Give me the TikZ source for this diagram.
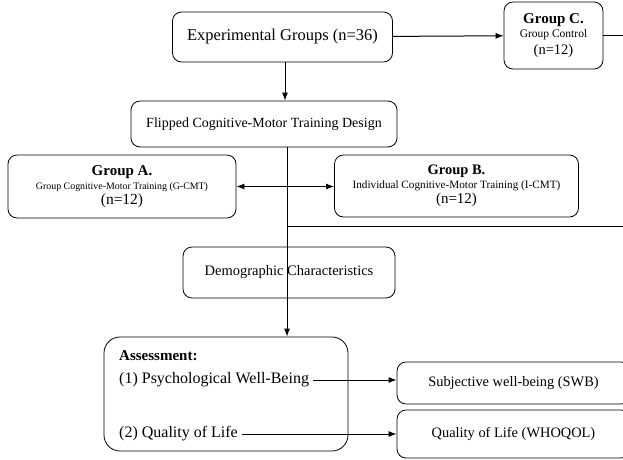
\documentclass[tikz,border=0pt]{standalone}
\usepackage{fontspec}
\setmainfont{Liberation Serif}
\usetikzlibrary{arrows.meta}

\tikzset{
  box/.style={shape=rectangle,rounded corners=9pt,draw=black,align=center,line width=0.8pt,inner sep=2pt},
  grp/.style={box,font=\fontsize{15}{15}\selectfont},
  link/.style={draw=black,line width=1pt,-{Latex[length=8pt,width=6pt]}},
  plain/.style={draw=black,line width=1pt},
  txt/.style={anchor=west,inner sep=0pt,font=\fontsize{16}{18}\selectfont}
}

\begin{document}
\begin{tikzpicture}[x=1pt,y=-1pt]
\useasboundingbox (0,0) rectangle (623,459);
\clip (0,0) rectangle (623,459);

\node[box,minimum width=220pt,minimum height=50pt,font=\fontsize{16.5}{18}\selectfont] (exp) at (282.5,37) {Experimental Groups (n=36)};
\node[grp,minimum width=99pt,minimum height=67pt] (grpC) at (553.5,35.5) {{\fontsize{15}{15}\selectfont\bfseries Group C.}\\[-1pt]{\fontsize{11.5}{13}\selectfont Group Control}\\[2pt]{\fontsize{14.5}{15}\selectfont (n=12)}};
\node[box,minimum width=266pt,minimum height=46pt,font=\fontsize{14}{16}\selectfont] (flip) at (264,124) {Flipped Cognitive-Motor Training Design};
\node[grp,minimum width=228pt,minimum height=63pt] (grpA) at (122,186.5) {{\fontsize{15}{15}\selectfont\bfseries Group A.}\\[-1pt]{\fontsize{9.9}{11}\selectfont Group Cognitive-Motor Training (G-CMT)}\\{\fontsize{15.5}{15}\selectfont (n=12)}};
\node[grp,minimum width=244pt,minimum height=62pt] (grpB) at (456.5,186) {{\fontsize{14.5}{15}\selectfont\bfseries Group B.}\\[-1pt]{\fontsize{11.2}{12}\selectfont Individual Cognitive-Motor Training (I-CMT)}\\{\fontsize{15}{15}\selectfont (n=12)}};
\node[box,minimum width=212pt,minimum height=51pt,font=\fontsize{14.5}{16}\selectfont] (demo) at (289,272.5) {Demographic Characteristics};
\node[box,minimum width=244pt,minimum height=114pt,rounded corners=16pt] (assess) at (226,394) {};
\node[box,minimum width=233pt,minimum height=42pt,font=\fontsize{14.4}{16}\selectfont] (swb) at (513.5,383) {Subjective well-being (SWB)};
\node[box,minimum width=233pt,minimum height=48pt,font=\fontsize{14.4}{16}\selectfont] (whoqol) at (513.5,434) {Quality of Life (WHOQOL)};

\node[txt,font=\fontsize{15}{17}\selectfont\bfseries] (head) at (119,356) {Assessment:};
\node[txt] (pwb) at (119,380) {(1) Psychological Well-Being};
\node[txt] (qol) at (119,434) {(2) Quality of Life};

\coordinate (rimC) at (623,35.5);
\coordinate (spine) at (287,147);
\coordinate (rimB) at (623,226);

\draw[link] (exp) -- (grpC);
\draw[plain] (grpC) -- (rimC);
\draw[link] (285,62) -- (flip.north -| 285,0);
\draw[link] (spine) -- (assess.north -| spine);
\draw[link,{Latex[length=8pt,width=6pt]}-{Latex[length=8pt,width=6pt]}] (grpA) -- (grpA -| grpB.west);
\draw[plain] (spine |- rimB) -- (rimB);
\draw[link] ([xshift=4pt]pwb.east) -- (pwb -| swb.west);
\draw[link] ([xshift=4pt]qol.east) -- (qol -| whoqol.west);
\end{tikzpicture}
\end{document}
